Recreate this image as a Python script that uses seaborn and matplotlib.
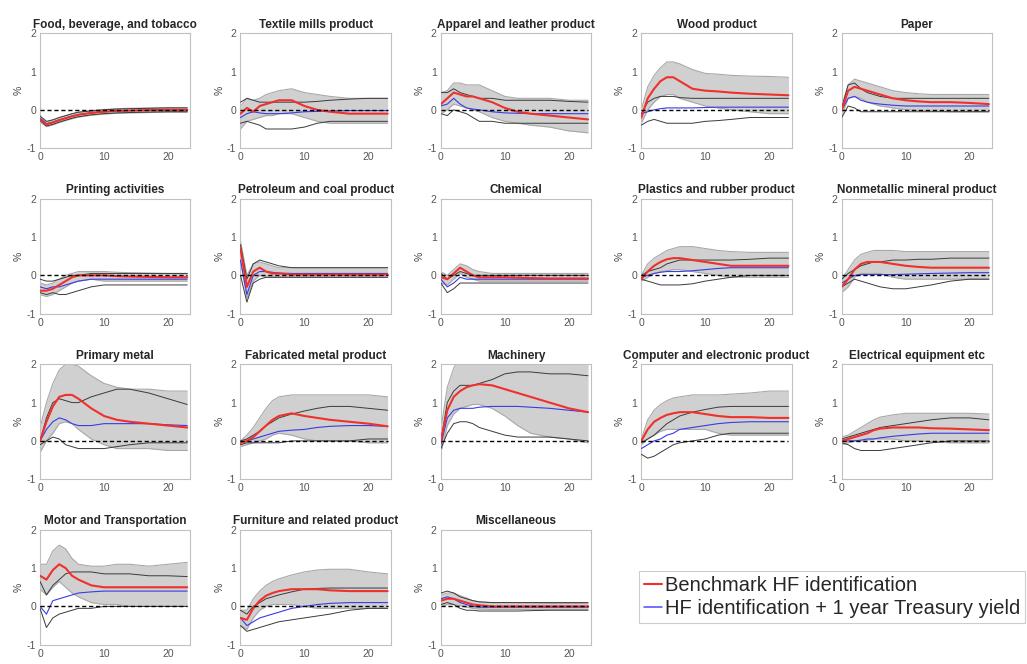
import numpy as np
import pandas as pd
import matplotlib
matplotlib.use("Agg")
import matplotlib.pyplot as plt
from matplotlib.lines import Line2D
import seaborn as sns

TITLES = [
    "Food, beverage, and tobacco", "Textile mills product", "Apparel and leather product",
    "Wood product", "Paper",
    "Printing activities", "Petroleum and coal product", "Chemical",
    "Plastics and rubber product", "Nonmetallic mineral product",
    "Primary metal", "Fabricated metal product", "Machinery",
    "Computer and electronic product", "Electrical equipment etc",
    "Motor and Transportation", "Furniture and related product", "Miscellaneous",
]

HORIZON = [0, 1, 2, 3, 4, 5, 6, 8, 10, 12, 14, 17, 20, 23]

RED = [
    [-0.25, -0.38, -0.33, -0.27, -0.22, -0.17, -0.13, -0.08, -0.05, -0.03, -0.02, -0.01, 0.0, 0.0],
    [-0.1, 0.05, -0.05, 0.1, 0.15, 0.2, 0.25, 0.25, 0.1, 0.0, -0.05, -0.1, -0.1, -0.1],
    [0.15, 0.3, 0.45, 0.4, 0.35, 0.35, 0.3, 0.2, 0.05, -0.05, -0.1, -0.15, -0.2, -0.25],
    [-0.2, 0.3, 0.55, 0.75, 0.85, 0.85, 0.75, 0.55, 0.5, 0.48, 0.45, 0.42, 0.4, 0.38],
    [0.0, 0.5, 0.6, 0.55, 0.5, 0.45, 0.4, 0.3, 0.25, 0.22, 0.2, 0.2, 0.18, 0.15],
    [-0.4, -0.4, -0.35, -0.25, -0.15, -0.05, 0.0, 0.0, 0.0, -0.02, -0.03, -0.04, -0.05, -0.05],
    [0.7, -0.3, 0.1, 0.2, 0.1, 0.05, 0.05, 0.02, 0.02, 0.02, 0.02, 0.02, 0.02, 0.02],
    [-0.05, -0.1, 0.05, 0.2, 0.1, 0.0, -0.05, -0.05, -0.05, -0.06, -0.07, -0.08, -0.08, -0.08],
    [-0.1, 0.1, 0.25, 0.35, 0.42, 0.45, 0.45, 0.4, 0.35, 0.3, 0.25, 0.25, 0.25, 0.25],
    [-0.3, -0.1, 0.15, 0.3, 0.35, 0.35, 0.35, 0.3, 0.25, 0.22, 0.2, 0.2, 0.2, 0.2],
    [0.0, 0.5, 0.9, 1.15, 1.2, 1.2, 1.1, 0.85, 0.65, 0.55, 0.5, 0.45, 0.4, 0.35],
    [-0.05, 0.0, 0.1, 0.25, 0.4, 0.55, 0.65, 0.72, 0.65, 0.6, 0.55, 0.5, 0.45, 0.38],
    [0.0, 0.8, 1.15, 1.3, 1.4, 1.45, 1.48, 1.45, 1.35, 1.25, 1.15, 1.0, 0.85, 0.75],
    [0.0, 0.3, 0.5, 0.6, 0.68, 0.72, 0.75, 0.75, 0.7, 0.65, 0.62, 0.62, 0.6, 0.6],
    [0.0, 0.05, 0.1, 0.15, 0.2, 0.28, 0.32, 0.35, 0.35, 0.35, 0.33, 0.32, 0.3, 0.28],
    [0.8, 0.7, 0.95, 1.1, 1.0, 0.8, 0.7, 0.55, 0.5, 0.5, 0.5, 0.5, 0.5, 0.5],
    [-0.3, -0.35, -0.05, 0.15, 0.28, 0.35, 0.4, 0.45, 0.45, 0.45, 0.42, 0.4, 0.4, 0.4],
    [0.15, 0.2, 0.2, 0.15, 0.1, 0.05, 0.03, 0.0, 0.0, 0.0, 0.0, 0.0, 0.0, 0.0],
]

BLUE = [
    [-0.22, -0.36, -0.32, -0.26, -0.21, -0.16, -0.12, -0.08, -0.05, -0.03, -0.02, -0.01, 0.0, 0.0],
    [-0.2, -0.1, -0.05, -0.08, -0.1, -0.1, -0.1, -0.08, -0.05, -0.04, -0.03, -0.02, -0.02, -0.02],
    [0.1, 0.15, 0.3, 0.15, 0.05, 0.02, 0.0, -0.05, -0.08, -0.09, -0.1, -0.1, -0.1, -0.1],
    [-0.1, -0.05, 0.0, 0.03, 0.05, 0.05, 0.05, 0.05, 0.06, 0.07, 0.07, 0.07, 0.07, 0.07],
    [0.0, 0.3, 0.35, 0.25, 0.2, 0.17, 0.15, 0.12, 0.1, 0.1, 0.1, 0.1, 0.1, 0.1],
    [-0.3, -0.35, -0.3, -0.3, -0.25, -0.2, -0.15, -0.1, -0.1, -0.1, -0.1, -0.1, -0.1, -0.1],
    [0.4, -0.5, 0.0, 0.1, 0.1, 0.08, 0.06, 0.05, 0.05, 0.05, 0.05, 0.05, 0.05, 0.05],
    [-0.1, -0.3, -0.2, -0.05, -0.1, -0.1, -0.1, -0.1, -0.1, -0.1, -0.1, -0.1, -0.1, -0.1],
    [-0.05, 0.0, 0.05, 0.08, 0.1, 0.1, 0.1, 0.12, 0.15, 0.18, 0.2, 0.2, 0.2, 0.2],
    [-0.2, -0.1, 0.0, 0.02, 0.02, 0.02, 0.02, 0.02, 0.03, 0.04, 0.05, 0.06, 0.07, 0.07],
    [0.0, 0.3, 0.5, 0.6, 0.55, 0.45, 0.4, 0.4, 0.45, 0.45, 0.45, 0.45, 0.42, 0.4],
    [-0.05, 0.0, 0.05, 0.1, 0.15, 0.2, 0.25, 0.28, 0.3, 0.35, 0.38, 0.4, 0.4, 0.38],
    [-0.1, 0.6, 0.8, 0.85, 0.85, 0.85, 0.88, 0.9, 0.9, 0.9, 0.88, 0.85, 0.8, 0.75],
    [-0.2, -0.1, 0.0, 0.05, 0.15, 0.2, 0.3, 0.35, 0.4, 0.45, 0.48, 0.5, 0.5, 0.5],
    [0.0, 0.0, 0.0, 0.02, 0.05, 0.05, 0.08, 0.12, 0.15, 0.18, 0.2, 0.2, 0.2, 0.2],
    [0.0, -0.2, 0.15, 0.2, 0.25, 0.3, 0.35, 0.38, 0.4, 0.4, 0.4, 0.4, 0.4, 0.4],
    [-0.3, -0.5, -0.4, -0.3, -0.25, -0.2, -0.15, -0.05, 0.0, 0.05, 0.08, 0.1, 0.1, 0.1],
    [0.2, 0.25, 0.2, 0.1, 0.05, 0.0, -0.02, -0.02, -0.02, -0.02, -0.02, -0.02, -0.02, -0.02],
]

GREY_LO = [
    [-0.31, -0.44, -0.39, -0.33, -0.28, -0.23, -0.19, -0.14, -0.11, -0.09, -0.08, -0.07, -0.06, -0.06],
    [-0.5, -0.3, -0.25, -0.2, -0.15, -0.15, -0.1, -0.1, -0.2, -0.3, -0.35, -0.35, -0.35, -0.35],
    [-0.1, 0.0, 0.15, 0.1, 0.05, 0.0, -0.05, -0.2, -0.3, -0.35, -0.4, -0.45, -0.55, -0.6],
    [-0.35, 0.0, 0.2, 0.35, 0.4, 0.4, 0.3, 0.2, 0.1, 0.05, 0.0, -0.05, -0.1, -0.1],
    [-0.15, 0.3, 0.35, 0.3, 0.2, 0.15, 0.1, 0.05, 0.0, -0.02, -0.03, -0.05, -0.05, -0.05],
    [-0.5, -0.55, -0.5, -0.4, -0.3, -0.2, -0.15, -0.1, -0.15, -0.15, -0.15, -0.15, -0.15, -0.15],
    [0.4, -0.6, -0.15, 0.0, -0.05, -0.05, -0.05, -0.05, -0.05, -0.05, -0.05, -0.05, -0.05, -0.05],
    [-0.2, -0.25, -0.1, 0.05, -0.05, -0.1, -0.15, -0.15, -0.15, -0.15, -0.15, -0.15, -0.15, -0.15],
    [-0.15, -0.05, 0.05, 0.1, 0.12, 0.15, 0.15, 0.1, 0.05, 0.0, -0.05, -0.05, -0.05, -0.05],
    [-0.45, -0.3, -0.05, 0.05, 0.05, 0.05, 0.05, -0.05, -0.1, -0.1, -0.1, -0.1, -0.1, -0.1],
    [-0.3, 0.0, 0.2, 0.45, 0.5, 0.45, 0.3, 0.05, -0.1, -0.2, -0.2, -0.2, -0.25, -0.25],
    [-0.15, -0.1, -0.05, 0.0, 0.05, 0.15, 0.2, 0.15, 0.05, 0.0, 0.0, 0.0, -0.05, -0.05],
    [-0.3, 0.4, 0.7, 0.85, 0.9, 0.95, 0.95, 0.85, 0.65, 0.4, 0.2, 0.1, 0.05, -0.05],
    [-0.1, 0.05, 0.15, 0.25, 0.3, 0.3, 0.3, 0.3, 0.3, 0.2, 0.15, 0.15, 0.15, 0.15],
    [-0.1, -0.05, 0.0, 0.0, 0.02, 0.05, 0.05, 0.05, 0.0, 0.0, -0.02, -0.05, -0.05, -0.05],
    [0.45, 0.3, 0.5, 0.65, 0.5, 0.35, 0.25, 0.1, 0.05, 0.05, 0.0, 0.0, 0.0, 0.0],
    [-0.5, -0.6, -0.3, -0.1, 0.0, 0.05, 0.05, 0.05, 0.0, -0.05, -0.05, -0.05, -0.05, -0.05],
    [0.0, 0.05, 0.05, 0.02, -0.02, -0.05, -0.07, -0.08, -0.08, -0.08, -0.08, -0.08, -0.08, -0.08],
]

GREY_HI = [
    [-0.19, -0.32, -0.27, -0.21, -0.16, -0.11, -0.07, -0.02, 0.01, 0.03, 0.04, 0.05, 0.06, 0.06],
    [0.1, 0.3, 0.25, 0.3, 0.4, 0.45, 0.5, 0.55, 0.45, 0.4, 0.35, 0.3, 0.3, 0.3],
    [0.45, 0.5, 0.7, 0.7, 0.65, 0.65, 0.65, 0.5, 0.35, 0.3, 0.3, 0.3, 0.25, 0.25],
    [0.0, 0.6, 0.9, 1.1, 1.25, 1.25, 1.2, 1.05, 0.95, 0.93, 0.9, 0.88, 0.87, 0.85],
    [0.1, 0.65, 0.8, 0.75, 0.7, 0.65, 0.6, 0.5, 0.45, 0.42, 0.4, 0.4, 0.4, 0.4],
    [-0.2, -0.25, -0.2, -0.1, 0.0, 0.05, 0.1, 0.1, 0.1, 0.08, 0.07, 0.06, 0.05, 0.05],
    [0.9, 0.0, 0.3, 0.35, 0.3, 0.25, 0.2, 0.2, 0.2, 0.2, 0.2, 0.2, 0.2, 0.2],
    [0.1, 0.0, 0.15, 0.3, 0.25, 0.15, 0.1, 0.05, 0.05, 0.05, 0.05, 0.05, 0.05, 0.05],
    [0.0, 0.3, 0.45, 0.55, 0.65, 0.7, 0.75, 0.75, 0.7, 0.65, 0.62, 0.6, 0.6, 0.6],
    [-0.1, 0.15, 0.4, 0.55, 0.6, 0.65, 0.65, 0.65, 0.62, 0.62, 0.62, 0.62, 0.62, 0.62],
    [0.35, 1.0, 1.5, 1.85, 2.0, 2.0, 1.95, 1.7, 1.5, 1.4, 1.35, 1.35, 1.3, 1.3],
    [0.0, 0.15, 0.35, 0.6, 0.85, 1.05, 1.15, 1.2, 1.2, 1.2, 1.2, 1.2, 1.2, 1.15],
    [0.3, 1.4, 1.9, 2.2, 2.4, 2.5, 2.5, 2.5, 2.5, 2.5, 2.4, 2.3, 2.2, 2.1],
    [0.05, 0.55, 0.8, 0.95, 1.05, 1.12, 1.15, 1.2, 1.2, 1.2, 1.22, 1.25, 1.3, 1.3],
    [0.1, 0.15, 0.25, 0.35, 0.45, 0.55, 0.62, 0.68, 0.72, 0.72, 0.72, 0.72, 0.72, 0.7],
    [1.1, 1.1, 1.45, 1.6, 1.5, 1.25, 1.1, 1.05, 1.05, 1.1, 1.1, 1.05, 1.1, 1.15],
    [-0.1, -0.1, 0.2, 0.4, 0.55, 0.65, 0.72, 0.82, 0.9, 0.95, 0.97, 0.97, 0.9, 0.85],
    [0.3, 0.35, 0.35, 0.28, 0.22, 0.15, 0.12, 0.1, 0.1, 0.09, 0.09, 0.08, 0.08, 0.08],
]

BLACK_LO = [
    [-0.28, -0.42, -0.38, -0.32, -0.27, -0.22, -0.18, -0.13, -0.1, -0.08, -0.07, -0.06, -0.05, -0.05],
    [-0.35, -0.3, -0.35, -0.4, -0.5, -0.5, -0.5, -0.5, -0.45, -0.35, -0.3, -0.3, -0.3, -0.3],
    [-0.1, -0.15, 0.0, -0.05, -0.1, -0.2, -0.3, -0.3, -0.35, -0.35, -0.35, -0.35, -0.35, -0.35],
    [-0.4, -0.3, -0.25, -0.3, -0.35, -0.35, -0.35, -0.35, -0.3, -0.28, -0.25, -0.2, -0.2, -0.2],
    [-0.2, 0.1, 0.05, -0.05, -0.05, -0.05, -0.05, -0.05, -0.05, -0.05, -0.05, -0.05, -0.05, -0.05],
    [-0.45, -0.5, -0.45, -0.5, -0.5, -0.45, -0.4, -0.3, -0.25, -0.25, -0.25, -0.25, -0.25, -0.25],
    [0.0, -0.7, -0.2, -0.1, -0.05, -0.05, -0.05, -0.05, -0.05, -0.05, -0.05, -0.05, -0.05, -0.05],
    [-0.2, -0.45, -0.35, -0.2, -0.2, -0.2, -0.2, -0.2, -0.2, -0.2, -0.2, -0.2, -0.2, -0.2],
    [-0.1, -0.15, -0.2, -0.25, -0.25, -0.25, -0.25, -0.22, -0.15, -0.1, -0.05, 0.0, 0.0, 0.0],
    [-0.3, -0.2, -0.1, -0.15, -0.2, -0.25, -0.3, -0.35, -0.35, -0.3, -0.25, -0.15, -0.1, -0.1],
    [-0.1, 0.0, 0.1, 0.05, -0.1, -0.15, -0.2, -0.2, -0.2, -0.15, -0.1, -0.05, -0.05, -0.05],
    [-0.1, -0.05, -0.05, -0.05, -0.05, -0.05, -0.05, 0.0, 0.0, 0.0, 0.0, 0.0, 0.05, 0.05],
    [-0.2, 0.2, 0.45, 0.5, 0.5, 0.45, 0.35, 0.25, 0.15, 0.1, 0.1, 0.1, 0.05, 0.0],
    [-0.35, -0.45, -0.4, -0.3, -0.2, -0.1, -0.05, 0.0, 0.05, 0.15, 0.2, 0.2, 0.2, 0.2],
    [-0.05, -0.1, -0.2, -0.25, -0.25, -0.25, -0.25, -0.2, -0.15, -0.1, -0.05, 0.0, 0.0, 0.0],
    [-0.05, -0.55, -0.3, -0.2, -0.15, -0.1, -0.05, -0.05, 0.0, 0.0, 0.0, 0.0, 0.0, 0.0],
    [-0.5, -0.65, -0.6, -0.55, -0.5, -0.45, -0.4, -0.35, -0.3, -0.25, -0.2, -0.1, -0.05, -0.05],
    [0.05, 0.1, 0.05, -0.05, -0.1, -0.1, -0.12, -0.12, -0.12, -0.12, -0.11, -0.1, -0.1, -0.1],
]

BLACK_HI = [
    [-0.16, -0.3, -0.26, -0.2, -0.15, -0.1, -0.06, -0.03, 0.0, 0.02, 0.03, 0.04, 0.05, 0.05],
    [0.2, 0.3, 0.25, 0.2, 0.2, 0.2, 0.2, 0.2, 0.2, 0.22, 0.25, 0.28, 0.3, 0.3],
    [0.45, 0.45, 0.55, 0.45, 0.4, 0.35, 0.3, 0.3, 0.25, 0.25, 0.25, 0.25, 0.22, 0.2],
    [-0.1, 0.2, 0.3, 0.35, 0.35, 0.35, 0.32, 0.3, 0.3, 0.3, 0.3, 0.3, 0.3, 0.3],
    [0.05, 0.65, 0.7, 0.55, 0.45, 0.4, 0.35, 0.3, 0.3, 0.3, 0.3, 0.3, 0.3, 0.3],
    [-0.1, -0.15, -0.15, -0.1, -0.05, 0.0, 0.0, 0.05, 0.05, 0.05, 0.05, 0.05, 0.05, 0.05],
    [0.8, -0.1, 0.3, 0.4, 0.35, 0.3, 0.25, 0.2, 0.2, 0.2, 0.2, 0.2, 0.2, 0.2],
    [0.05, -0.1, 0.0, 0.1, 0.05, 0.0, 0.0, 0.0, 0.0, 0.0, 0.0, 0.0, 0.0, 0.0],
    [0.0, 0.1, 0.15, 0.2, 0.3, 0.35, 0.4, 0.4, 0.4, 0.4, 0.4, 0.42, 0.45, 0.45],
    [-0.1, 0.05, 0.15, 0.25, 0.3, 0.35, 0.35, 0.4, 0.4, 0.42, 0.42, 0.45, 0.45, 0.45],
    [0.0, 0.6, 1.0, 1.1, 1.05, 1.0, 1.0, 1.15, 1.25, 1.35, 1.35, 1.25, 1.1, 0.95],
    [0.0, 0.05, 0.15, 0.25, 0.4, 0.5, 0.6, 0.7, 0.78, 0.85, 0.9, 0.9, 0.85, 0.8],
    [0.0, 1.0, 1.3, 1.45, 1.45, 1.45, 1.5, 1.6, 1.75, 1.8, 1.8, 1.75, 1.75, 1.7],
    [-0.05, 0.05, 0.15, 0.3, 0.45, 0.55, 0.65, 0.75, 0.82, 0.88, 0.9, 0.9, 0.9, 0.9],
    [0.05, 0.1, 0.15, 0.2, 0.25, 0.3, 0.35, 0.4, 0.45, 0.5, 0.55, 0.6, 0.6, 0.55],
    [0.65, 0.3, 0.55, 0.7, 0.85, 0.9, 0.9, 0.9, 0.85, 0.85, 0.85, 0.8, 0.8, 0.78],
    [-0.1, -0.2, 0.0, 0.1, 0.2, 0.25, 0.3, 0.38, 0.45, 0.47, 0.48, 0.48, 0.48, 0.48],
    [0.35, 0.4, 0.35, 0.25, 0.2, 0.15, 0.12, 0.1, 0.1, 0.1, 0.1, 0.1, 0.1, 0.1],
]

LEGEND_LABELS = ["Benchmark HF identification", "HF identification + 1 year Treasury yield"]
Y_TICKS = [-1, 0, 1, 2]
X_TICKS = [0, 10, 20]

sns.set_style("white")
plt.rcParams["font.family"] = ["Liberation Sans", "DejaVu Sans"]
plt.rcParams["axes.unicode_minus"] = False

RED_C = "#f0302a"
BLUE_C = "#3a3ae8"
BAND_C = "#d0d0d0"
BAND_EDGE = "#a8a8a8"
BLACK_C = "#3a3a3a"

fig, axes = plt.subplots(4, 5, figsize=(10.27, 6.64), dpi=100)
fig.subplots_adjust(left=0.039, right=0.966, top=0.950, bottom=0.029, wspace=0.333, hspace=0.44)

for i, ax in enumerate(axes.flat):
    if i >= len(TITLES):
        ax.axis("off")
        continue
    df = pd.DataFrame({
        "h": HORIZON, "red": RED[i], "blue": BLUE[i],
        "glo": GREY_LO[i], "ghi": GREY_HI[i], "blo": BLACK_LO[i], "bhi": BLACK_HI[i],
    })
    ax.fill_between(df["h"], df["glo"], df["ghi"], color=BAND_C, linewidth=0, zorder=1)
    sns.lineplot(data=df, x="h", y="glo", ax=ax, color=BAND_EDGE, linewidth=0.8, zorder=2)
    sns.lineplot(data=df, x="h", y="ghi", ax=ax, color=BAND_EDGE, linewidth=0.8, zorder=2)
    sns.lineplot(data=df, x="h", y="blo", ax=ax, color=BLACK_C, linewidth=0.7, zorder=3)
    sns.lineplot(data=df, x="h", y="bhi", ax=ax, color=BLACK_C, linewidth=0.7, zorder=3)
    sns.lineplot(data=df, x="h", y="blue", ax=ax, color=BLUE_C, linewidth=0.8, zorder=4)
    sns.lineplot(data=df, x="h", y="red", ax=ax, color=RED_C, linewidth=1.5, zorder=5)
    ax.plot([HORIZON[0], HORIZON[-1]], [0, 0], color="black", linestyle=(0, (3, 2)), linewidth=1.0, zorder=6)
    ax.set_xlim(0, 23.5)
    ax.set_ylim(-1, 2)
    ax.set_xticks(X_TICKS)
    ax.set_yticks(Y_TICKS)
    ax.set_xlabel("")
    ax.set_ylabel("%", fontsize=7.5, color="#444444", labelpad=2)
    ax.set_title(TITLES[i], fontsize=8.5, fontweight="bold", pad=4)
    ax.tick_params(direction="in", length=2, labelsize=7.5, colors="#555555", pad=3)
    for s in ax.spines.values():
        s.set_color("#c0c0c0")
        s.set_linewidth(0.8)

handles = [Line2D([], [], color=RED_C, linewidth=1.5), Line2D([], [], color="#4a4aff", linewidth=1.1)]
leg = fig.legend(handles, LEGEND_LABELS, loc="lower left", bbox_to_anchor=(0.622, 0.061),
                 fontsize=14.5, frameon=True, handlelength=0.9, handletextpad=0.15,
                 borderpad=0.25, labelspacing=0.2, fancybox=False, borderaxespad=0)
leg.get_frame().set_edgecolor("#c0c0c0")
leg.get_frame().set_linewidth(0.8)

fig.savefig("out.png", dpi=100)
